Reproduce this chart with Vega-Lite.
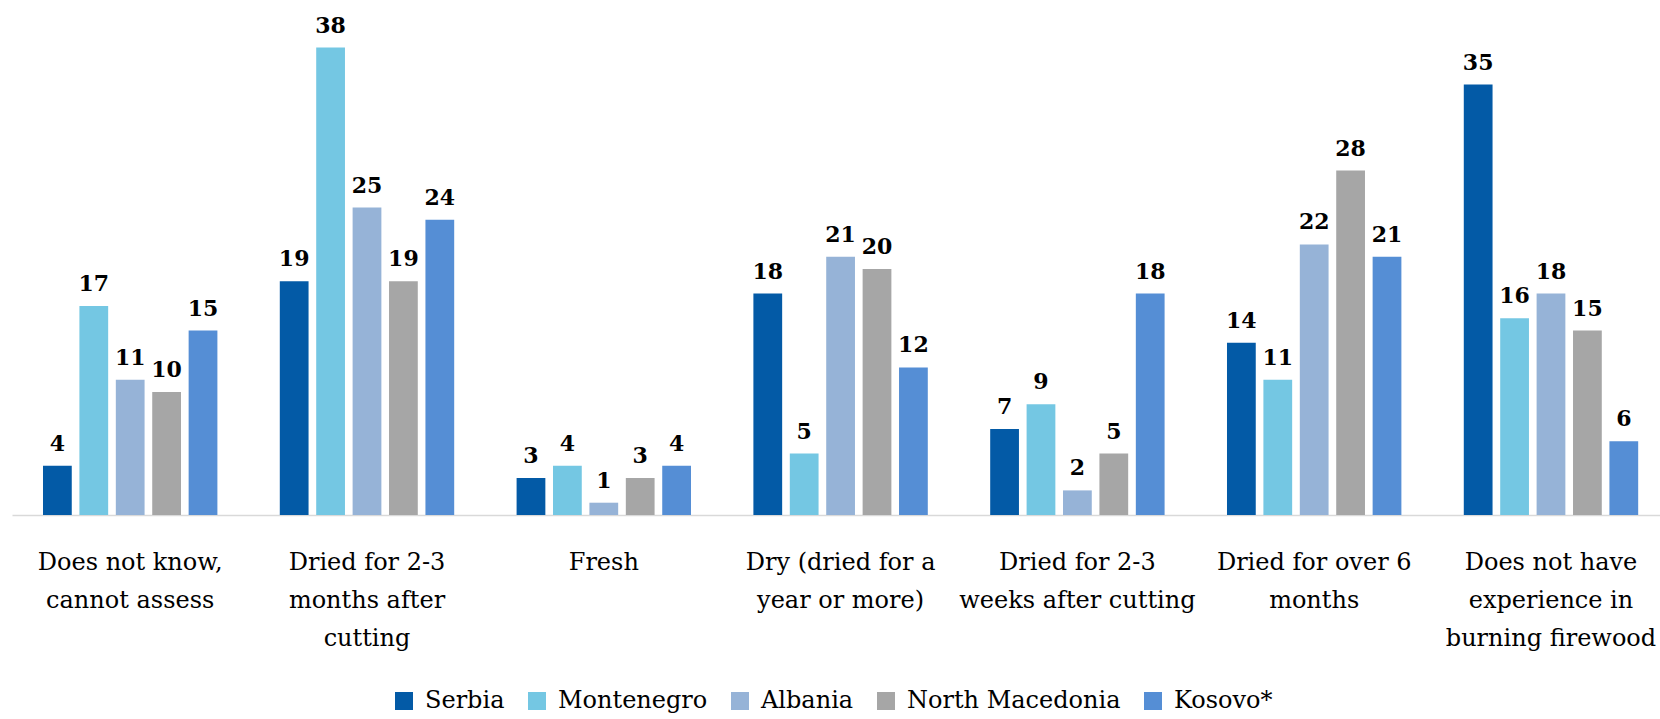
{
  "$schema": "https://vega.github.io/schema/vega-lite/v6.json",
  "width": 1648,
  "height": 492,
  "autosize": {"type": "none"},
  "padding": {"left": 12, "top": 23, "right": 0, "bottom": 204},
  "background": "#ffffff",
  "data": {
    "values": [
      {"category": "Does not know,|cannot assess", "country": "Serbia", "value": 4},
      {"category": "Does not know,|cannot assess", "country": "Montenegro", "value": 17},
      {"category": "Does not know,|cannot assess", "country": "Albania", "value": 11},
      {"category": "Does not know,|cannot assess", "country": "North Macedonia", "value": 10},
      {"category": "Does not know,|cannot assess", "country": "Kosovo*", "value": 15},
      {"category": "Dried for 2-3|months after|cutting", "country": "Serbia", "value": 19},
      {"category": "Dried for 2-3|months after|cutting", "country": "Montenegro", "value": 38},
      {"category": "Dried for 2-3|months after|cutting", "country": "Albania", "value": 25},
      {"category": "Dried for 2-3|months after|cutting", "country": "North Macedonia", "value": 19},
      {"category": "Dried for 2-3|months after|cutting", "country": "Kosovo*", "value": 24},
      {"category": "Fresh", "country": "Serbia", "value": 3},
      {"category": "Fresh", "country": "Montenegro", "value": 4},
      {"category": "Fresh", "country": "Albania", "value": 1},
      {"category": "Fresh", "country": "North Macedonia", "value": 3},
      {"category": "Fresh", "country": "Kosovo*", "value": 4},
      {"category": "Dry (dried for a|year or more)", "country": "Serbia", "value": 18},
      {"category": "Dry (dried for a|year or more)", "country": "Montenegro", "value": 5},
      {"category": "Dry (dried for a|year or more)", "country": "Albania", "value": 21},
      {"category": "Dry (dried for a|year or more)", "country": "North Macedonia", "value": 20},
      {"category": "Dry (dried for a|year or more)", "country": "Kosovo*", "value": 12},
      {"category": "Dried for 2-3|weeks after cutting", "country": "Serbia", "value": 7},
      {"category": "Dried for 2-3|weeks after cutting", "country": "Montenegro", "value": 9},
      {"category": "Dried for 2-3|weeks after cutting", "country": "Albania", "value": 2},
      {"category": "Dried for 2-3|weeks after cutting", "country": "North Macedonia", "value": 5},
      {"category": "Dried for 2-3|weeks after cutting", "country": "Kosovo*", "value": 18},
      {"category": "Dried for over 6|months", "country": "Serbia", "value": 14},
      {"category": "Dried for over 6|months", "country": "Montenegro", "value": 11},
      {"category": "Dried for over 6|months", "country": "Albania", "value": 22},
      {"category": "Dried for over 6|months", "country": "North Macedonia", "value": 28},
      {"category": "Dried for over 6|months", "country": "Kosovo*", "value": 21},
      {"category": "Does not have|experience in|burning firewood", "country": "Serbia", "value": 35},
      {"category": "Does not have|experience in|burning firewood", "country": "Montenegro", "value": 16},
      {"category": "Does not have|experience in|burning firewood", "country": "Albania", "value": 18},
      {"category": "Does not have|experience in|burning firewood", "country": "North Macedonia", "value": 15},
      {"category": "Does not have|experience in|burning firewood", "country": "Kosovo*", "value": 6}
    ]
  },
  "encoding": {
    "x": {
      "field": "category",
      "type": "nominal",
      "sort": null,
      "scale": {"paddingInner": 0.2635, "paddingOuter": 0.1115, "align": 0.587},
      "axis": {
        "title": null,
        "labelExpr": "split(datum.label, '|')",
        "labelAngle": 0,
        "labelFont": "DejaVu Serif",
        "labelFontSize": 24,
        "labelColor": "#000000",
        "labelLineHeight": 38,
        "labelPadding": 35,
        "labelLimit": 500,
        "labelOverlap": false,
        "labelBound": false,
        "labelFlush": false,
        "ticks": false,
        "grid": false,
        "domainColor": "#d9d9d9",
        "domainWidth": 1.5
      }
    },
    "xOffset": {
      "field": "country",
      "type": "nominal",
      "sort": ["Serbia", "Montenegro", "Albania", "North Macedonia", "Kosovo*"],
      "scale": {"paddingInner": 0.21, "paddingOuter": 0}
    },
    "y": {
      "field": "value",
      "type": "quantitative",
      "scale": {"domain": [0, 40], "nice": false},
      "axis": null
    }
  },
  "layer": [
    {
      "mark": {"type": "bar"},
      "encoding": {
        "color": {
          "field": "country",
          "type": "nominal",
          "sort": ["Serbia", "Montenegro", "Albania", "North Macedonia", "Kosovo*"],
          "scale": {
            "domain": ["Serbia", "Montenegro", "Albania", "North Macedonia", "Kosovo*"],
            "range": ["#035aa6", "#74c7e3", "#96b3d7", "#a6a6a6", "#558ed5"]
          },
          "legend": {
            "orient": "none",
            "legendX": 380,
            "legendY": 666,
            "direction": "horizontal",
            "columns": 5,
            "title": null,
            "symbolType": "square",
            "symbolSize": 324,
            "symbolStrokeWidth": 0,
            "labelFont": "DejaVu Serif",
            "labelFontSize": 24,
            "labelColor": "#000000",
            "labelOffset": 9,
            "columnPadding": 20,
            "padding": 0,
            "labelLimit": 500
          }
        }
      }
    },
    {
      "mark": {
        "type": "text",
        "baseline": "alphabetic",
        "dy": -15,
        "font": "DejaVu Serif",
        "fontWeight": "bold",
        "fontSize": 22,
        "color": "#000000"
      },
      "encoding": {
        "text": {"field": "value", "type": "quantitative"}
      }
    }
  ],
  "config": {"view": {"stroke": null}}
}
